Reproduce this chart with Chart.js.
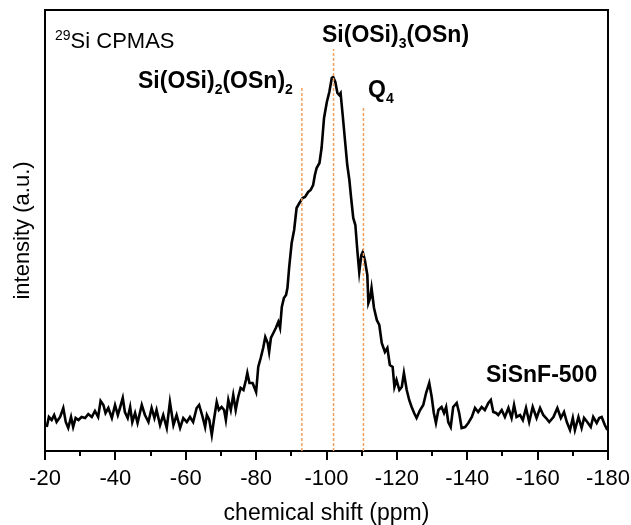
<!DOCTYPE html>
<html>
<head>
<meta charset="utf-8">
<script src="https://cdn.jsdelivr.net/npm/chart.js@4.4.0/dist/chart.umd.min.js"></script>
<style>
  html, body { margin: 0; padding: 0; background: #fff; }
  #wrap { width: 631px; height: 525px; }
</style>
</head>
<body>
<div id="wrap"><canvas id="nmr" width="631" height="525"></canvas></div>
<script>
// 29Si CPMAS spectrum
var shiftPpm = [
  -20.5,-21.1,-21.9,-22.6,-23.3,-24.3,-25.2,-25.9,-26.6,-27.4,-28.0,-28.7,-29.5,-30.4,-31.4,-32.3,-33.3,-34.2,-35.1,-35.8,
  -36.6,-37.2,-38.0,-39.0,-39.9,-40.7,-41.3,-42.1,-42.7,-43.5,-44.2,-44.8,-45.6,-46.3,-47.5,-48.4,-49.4,-50.3,-51.1,-51.7,
  -52.7,-53.6,-54.6,-55.5,-56.5,-57.4,-58.4,-59.3,-60.3,-61.2,-62.1,-63.1,-63.8,-64.8,-65.5,-66.0,-66.7,-67.4,-68.0,-68.8,
  -69.4,-70.2,-70.9,-71.4,-72.1,-72.8,-73.5,-74.2,-74.9,-75.6,-76.4,-77.1,-77.5,-78.1,-79.0,-80.0,-80.6,-81.3,-82.0,-82.6,
  -83.3,-83.7,-84.2,-84.9,-85.6,-86.3,-86.8,-87.3,-87.9,-88.5,-88.9,-89.4,-90.1,-90.8,-91.5,-92.3,-93.2,-93.9,-94.8,-95.5,
  -96.2,-96.7,-97.2,-98.0,-98.6,-99.3,-100.1,-100.8,-101.5,-101.9,-102.5,-103.1,-103.6,-104.0,-104.6,-105.3,-105.9,-106.5,-107.0,-107.6,
  -108.2,-108.8,-109.3,-109.9,-110.3,-110.9,-111.6,-111.9,-112.4,-112.8,-113.5,-114.3,-115.0,-115.7,-116.6,-117.3,-118.0,-118.8,-119.3,-119.9,
  -120.7,-121.4,-122.0,-122.8,-123.5,-124.2,-124.9,-125.6,-126.6,-127.5,-128.3,-129.2,-129.9,-130.5,-131.1,-131.8,-132.7,-133.4,-134.0,-134.6,
  -135.3,-136.0,-137.0,-137.7,-138.4,-139.4,-140.3,-141.3,-142.2,-143.1,-144.1,-145.0,-146.0,-146.7,-147.4,-148.2,-148.8,-149.8,-150.7,-151.7,
  -152.6,-153.3,-154.0,-155.0,-155.8,-156.7,-157.6,-158.6,-159.7,-160.7,-161.6,-162.4,-163.3,-164.5,-165.6,-166.6,-167.5,-168.3,-169.2,-170.0,
  -170.6,-171.6,-172.5,-173.2,-174.1,-175.1,-175.8,-176.8,-177.5,-178.2,-179.1,-179.8
];
var intensity = [
  24,34,31,36,29,34,43,29,23,34,24,33,31,34,33,37,34,40,34,50,
  46,38,43,33,46,36,43,53,39,33,44,29,38,28,46,36,29,43,33,41,
  26,36,23,49,26,36,23,33,29,34,29,43,46,34,24,36,31,16,31,49,
  41,44,41,31,51,41,56,41,54,63,61,71,78,68,68,59,84,93,103,114,
  108,99,113,118,123,129,123,144,153,156,163,184,208,221,243,248,253,254,259,261,
  266,276,283,288,303,333,349,359,373,374,369,358,356,358,336,309,286,271,253,233,
  226,199,179,196,199,191,176,148,153,163,143,131,126,108,99,103,86,84,64,71,
  61,64,78,61,51,44,38,33,41,46,58,68,54,38,28,41,44,38,44,29,
  24,44,48,38,23,24,28,34,43,39,44,41,48,51,39,38,36,41,34,43,
  33,46,34,36,31,43,29,44,33,43,36,33,29,34,43,33,39,29,21,33,
  21,34,23,33,29,24,34,28,33,34,26,21
];

// peak assignments (dashed markers)
var markerPpm = [-93, -102, -110.5];
var markerTop = [363, 402, 344];

var xTicks = [-20, -40, -60, -80, -100, -120, -140, -160, -180];

var FONT = '"Liberation Sans", Arial, Helvetica, sans-serif';

var spectrum = shiftPpm.map(function (p, i) { return { x: p, y: intensity[i] }; });

var datasets = [{
  data: spectrum,
  borderColor: '#000',
  borderWidth: 2.6,
  pointRadius: 0,
  tension: 0,
  order: 2
}];
markerPpm.forEach(function (p, i) {
  datasets.push({
    data: [{ x: p, y: 0 }, { x: p, y: markerTop[i] }],
    borderColor: 'rgb(242,160,95)',
    borderWidth: 1.5,
    borderDash: [3, 2],
    pointRadius: 0,
    order: 1
  });
});

function drawRuns(ctx, x, y, runs, size, weight) {
  runs.forEach(function (r) {
    var s = (r.sub || r.sup) ? Math.round(size * 0.62) : size;
    ctx.font = weight + ' ' + s + 'px ' + FONT;
    var dy = r.sub ? size * 0.26 : (r.sup ? -size * 0.38 : 0);
    ctx.fillText(r.t, x, y + dy);
    x += ctx.measureText(r.t).width;
  });
}

var frame = {
  id: 'frame',
  afterDraw: function (chart) {
    var ctx = chart.ctx, a = chart.chartArea, xs = chart.scales.x;
    ctx.save();
    ctx.strokeStyle = '#000';
    ctx.lineWidth = 2;
    // box top and right
    ctx.beginPath();
    ctx.moveTo(a.left, a.top);
    ctx.lineTo(a.right, a.top);
    ctx.lineTo(a.right, a.bottom);
    ctx.stroke();
    // ticks
    for (var v = -20; v >= -180; v -= 10) {
      var px = Math.round(xs.getPixelForValue(v));
      var len = (v % 20 === 0) ? 9 : 5;
      ctx.beginPath();
      ctx.moveTo(px, a.bottom);
      ctx.lineTo(px, a.bottom + len);
      ctx.stroke();
    }
    // labels
    ctx.fillStyle = '#000';
    ctx.textBaseline = 'alphabetic';
    drawRuns(ctx, 55, 48, [{ t: '29', sup: true }, { t: 'Si CPMAS' }], 22, 'normal');
    drawRuns(ctx, 138, 88, [{ t: 'Si(OSi)' }, { t: '2', sub: true }, { t: '(OSn)' }, { t: '2', sub: true }], 23, 'bold');
    drawRuns(ctx, 322, 42, [{ t: 'Si(OSi)' }, { t: '3', sub: true }, { t: '(OSn)' }], 23, 'bold');
    drawRuns(ctx, 368, 97, [{ t: 'Q' }, { t: '4', sub: true }], 23, 'bold');
    drawRuns(ctx, 486, 382, [{ t: 'SiSnF-500' }], 23, 'bold');
    ctx.restore();
  }
};

var ctx = document.getElementById('nmr').getContext('2d');
var chart = new Chart(ctx, {
  type: 'line',
  data: { datasets: datasets },
  options: {
    responsive: false,
    animation: false,
    layout: { padding: { top: 10, right: 23, left: 0, bottom: 0 } },
    plugins: { legend: { display: false }, tooltip: { enabled: false } },
    scales: {
      x: {
        type: 'linear',
        reverse: true,
        min: -180,
        max: -20,
        afterBuildTicks: function (scale) {
          scale.ticks = xTicks.map(function (v) { return { value: v }; });
        },
        afterFit: function (scale) {
          scale.height = 74;
          scale.paddingLeft = 0;
          scale.paddingRight = 0;
        },
        grid: { display: false, drawTicks: false },
        border: { display: true, color: '#000', width: 2 },
        ticks: { color: '#000', padding: 15, maxRotation: 0, autoSkip: false, font: { family: FONT, size: 22 } },
        title: {
          display: true, text: 'chemical shift (ppm)', color: '#000',
          padding: { top: 0, bottom: 0 },
          font: { family: FONT, size: 23, lineHeight: 1.0 }
        }
      },
      y: {
        min: 0,
        max: 441,
        afterFit: function (scale) { scale.width = 45; },
        grid: { display: false, drawTicks: false },
        border: { display: true, color: '#000', width: 2 },
        ticks: { display: false },
        title: {
          display: true, text: 'intensity (a.u.)', color: '#000',
          padding: { top: 10, bottom: 0 },
          font: { family: FONT, size: 22 }
        }
      }
    }
  },
  plugins: [frame]
});
</script>
</body>
</html>
